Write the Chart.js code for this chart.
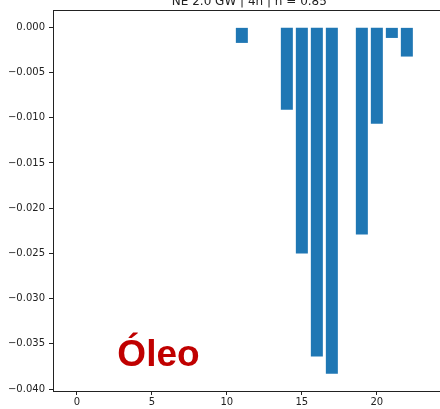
<!DOCTYPE html>
<html>
<head>
<meta charset="utf-8">
<script src="https://cdn.jsdelivr.net/npm/chart.js@4"></script>
<style>
  html, body { margin: 0; padding: 0; background: #fff; overflow: hidden; }
  #wrap { width: 440px; height: 409px; }
</style>
</head>
<body>
<div id="wrap"><canvas id="myChart" width="440" height="409"></canvas></div>
<script>
// chart data
const hours = [0, 1, 2, 3, 4, 5, 6, 7, 8, 9, 10, 11, 12, 13, 14, 15, 16, 17, 18, 19, 20, 21, 22, 23];
const values = [0, 0, 0, 0, 0, 0, 0, 0, 0, 0, 0, -0.00172, 0, 0, -0.0091, -0.0250, -0.0364, -0.0383, 0, -0.0229, -0.01066, -0.00117, -0.00323, 0];
const xTicks = [0, 5, 10, 15, 20];
const yTicks = [0, -0.005, -0.01, -0.015, -0.02, -0.025, -0.03, -0.035, -0.04];
const titleText = 'NE 2.0 GW | 4h | h = 0.85';
const labelText = 'Óleo';
const labelPos = { x: 2.7, y: -0.0375 };

const axisColor = '#222';
const tickFont = { family: '"DejaVu Sans"', size: 10 };

// top spine, cut-off title and the big red label
const extras = {
    id: 'extras',
    afterDraw(chart) {
        const { ctx, chartArea, scales } = chart;
        ctx.save();
        ctx.strokeStyle = axisColor;
        ctx.lineWidth = 1;
        ctx.beginPath();
        ctx.moveTo(chartArea.left, chartArea.top + 0.5);
        ctx.lineTo(chartArea.right, chartArea.top + 0.5);
        ctx.stroke();

        ctx.fillStyle = axisColor;
        ctx.font = '12px "DejaVu Sans"';
        ctx.textAlign = 'center';
        ctx.textBaseline = 'alphabetic';
        const mid = (scales.x.getPixelForValue(-1.59) + scales.x.getPixelForValue(24.59)) / 2;
        ctx.fillText(titleText, mid, chartArea.top - 5.5);

        ctx.fillStyle = '#c00000';
        ctx.font = 'bold 37px "Liberation Sans"';
        ctx.textAlign = 'left';
        ctx.fillText(labelText, scales.x.getPixelForValue(labelPos.x), scales.y.getPixelForValue(labelPos.y));
        ctx.restore();
    }
};

const ctx = document.getElementById('myChart').getContext('2d');
const myChart = new Chart(ctx, {
    type: 'bar',
    data: {
        datasets: [{
            data: hours.map((h, i) => ({ x: h, y: values[i] })),
            backgroundColor: '#1f77b4',
            borderWidth: 0,
            categoryPercentage: 1,
            barPercentage: 0.8
        }]
    },
    options: {
        responsive: false,
        animation: false,
        layout: { padding: { top: 9, left: 0, right: 0, bottom: 0 } },
        plugins: {
            legend: { display: false },
            tooltip: { enabled: false }
        },
        scales: {
            x: {
                type: 'linear',
                offset: false,
                min: -1.59,
                max: 24.21,
                afterFit(scale) { scale.height = 18; },
                afterBuildTicks(scale) { scale.ticks = xTicks.map(v => ({ value: v })); },
                ticks: {
                    color: axisColor,
                    font: tickFont,
                    padding: 1,
                    maxRotation: 0,
                    callback: v => String(v)
                },
                grid: {
                    offset: false,
                    drawOnChartArea: false,
                    drawTicks: true,
                    tickLength: 4,
                    color: axisColor
                },
                border: { display: true, color: axisColor, width: 1 }
            },
            y: {
                min: -0.04022,
                max: 0.00192,
                afterFit(scale) { scale.width = 53; },
                afterBuildTicks(scale) { scale.ticks = yTicks.map(v => ({ value: v })); },
                ticks: {
                    color: axisColor,
                    font: tickFont,
                    padding: 4,
                    callback: v => v.toFixed(3).replace('-', '\u2212').replace('\u22120.000', '0.000')
                },
                grid: {
                    drawOnChartArea: false,
                    drawTicks: true,
                    tickLength: 4,
                    color: axisColor
                },
                border: { display: true, color: axisColor, width: 1 }
            }
        }
    },
    plugins: [extras]
});
</script>
</body>
</html>
